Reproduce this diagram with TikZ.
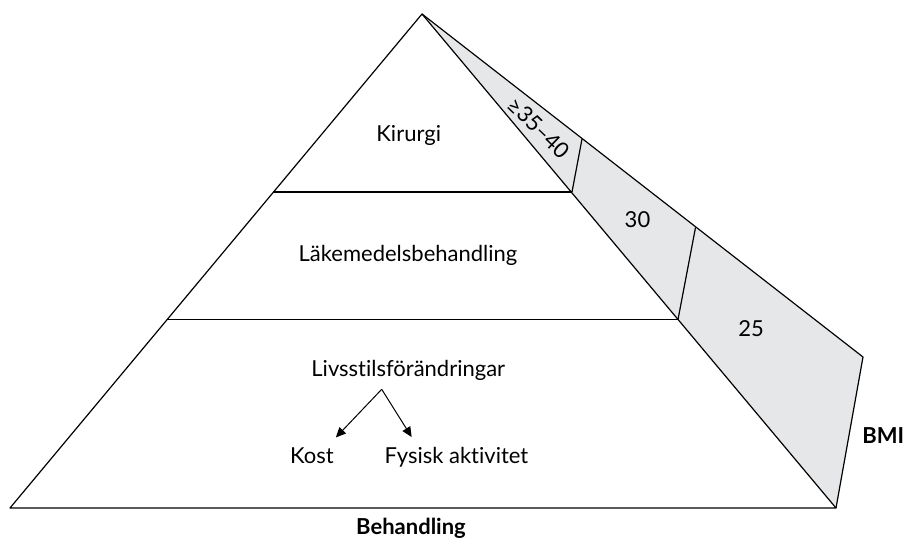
\documentclass[tikz,border=0pt]{standalone}
\usepackage{fontspec}
\setmainfont{Lato}[Ligatures=NoCommon]
\usetikzlibrary{arrows.meta, positioning}
\definecolor{bandgray}{RGB}{230, 231, 233}
\tikzset{
  steptext/.style={font=\fontsize{11}{13}\selectfont, anchor=base},
  axistext/.style={font=\fontsize{11}{13}\selectfont\bfseries, anchor=base},
  pyrline/.style={line width=0.6pt, black, line join=round},
  arr/.style={-{Triangle[length=5pt, width=4.5pt]}, line width=0.5pt},
}

\begin{document}
\begin{tikzpicture}[x=0.5pt, y=-0.5pt]
    \useasboundingbox (0,0) rectangle (904,544);
    \coordinate (apex) at (422,14);
    \coordinate (baseL) at (10,508);
    \coordinate (baseR) at (836,508);
    \coordinate (bandR) at (863,357);

    % BMI band (right)
    \fill[bandgray] (apex) -- (bandR) -- (baseR) -- cycle;
    \draw[pyrline] (apex) -- (bandR) -- (baseR);
    \draw[pyrline] (582,139) -- (572,192);
    \draw[pyrline] (695.5,227.5) -- (678,319.5);
    \node[steptext, rotate=-44, anchor=center, inner sep=0pt] (bmiA) at (539,128) {≥35–40};
    \node[steptext] (bmiB) at (637.5,228) {30};
    \node[steptext] (bmiC) at (751,336.7) {25};
    \node[axistext, anchor=base west, inner sep=0pt] (bmi) at (862,444) {BMI};

    % Pyramid (left)
    \draw[pyrline] (baseL) -- (apex) -- (baseR) -- cycle;
    \draw[pyrline] (273,192) -- (572,192);
    \draw[pyrline] (167,319.5) -- (678,319.5);
    \node[steptext] (kir) at (408.7,141.7) {Kirurgi};
    \node[steptext] (lak) at (408,262) {Läkemedelsbehandling};
    \node[steptext] (livs) at (408.3,377) {Livsstilsförändringar};
    \node[steptext] (kost) at (312,463.3) {Kost};
    \node[steptext] (fys) at (456.5,463.3) {Fysisk aktivitet};
    \node[axistext] (beh) at (411,534) {Behandling};

    \coordinate (split) at (381.7,389.3);
    \draw[arr] (split) -- ([xshift=-2.5pt, yshift=1.5pt]kost.north east);
    \draw[arr] (split) -- ([xshift=17pt, yshift=1.5pt]fys.north west);
\end{tikzpicture}
\end{document}
